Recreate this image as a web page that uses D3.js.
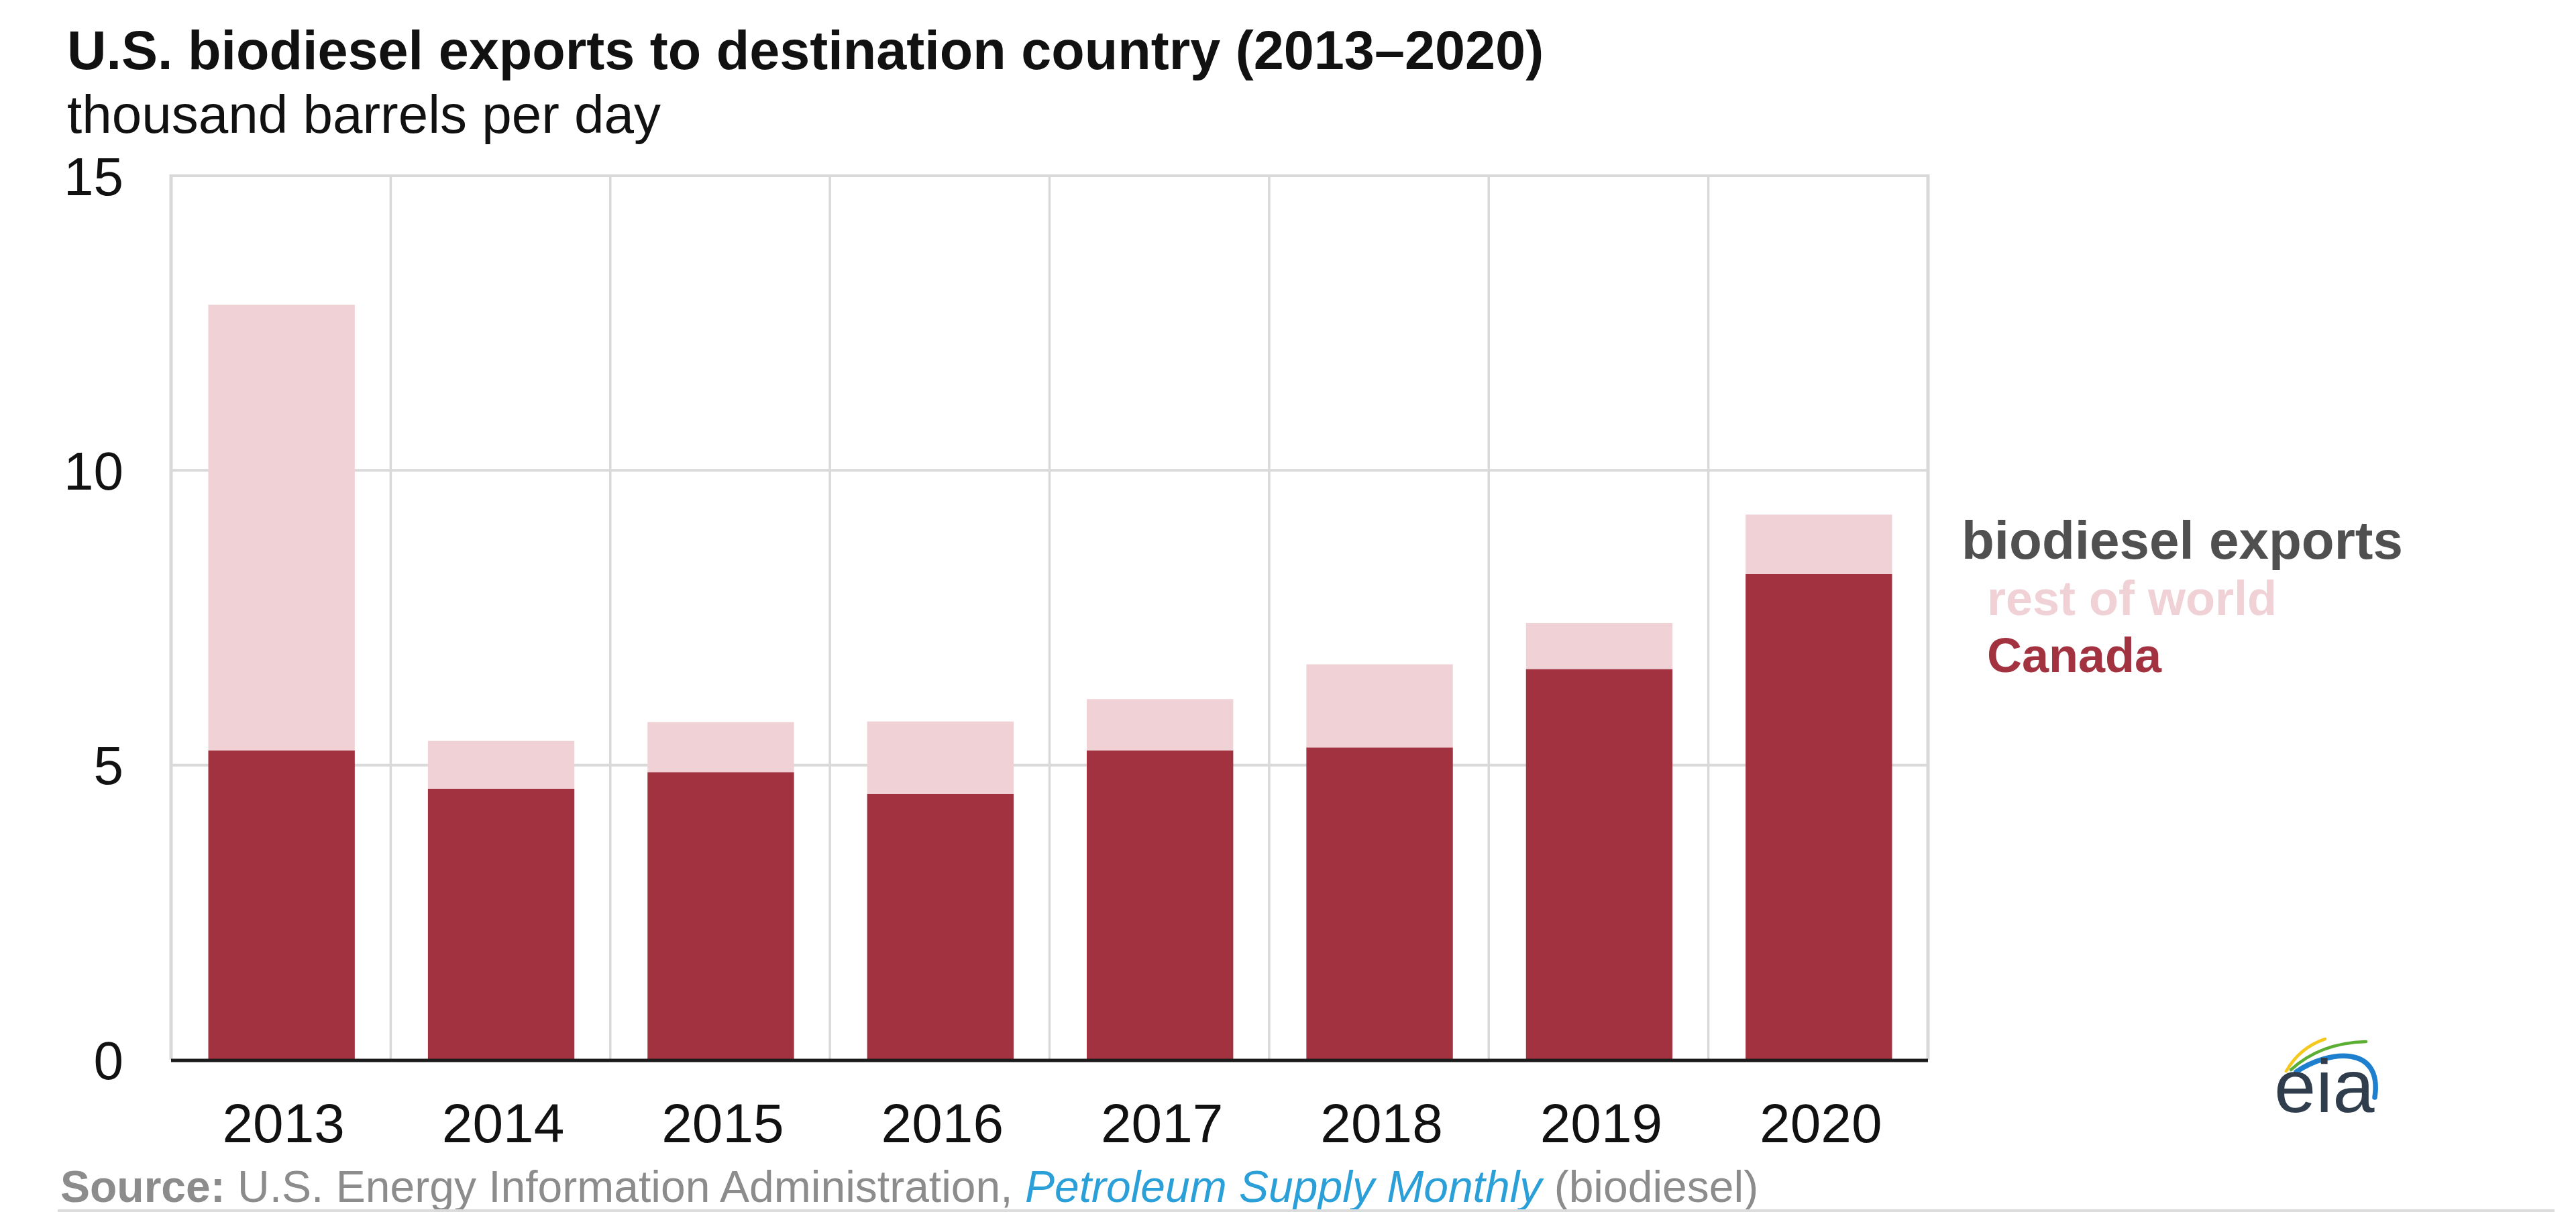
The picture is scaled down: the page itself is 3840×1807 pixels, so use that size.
<!DOCTYPE html>
<html>
<head>
<meta charset="utf-8">
<script src="https://cdn.jsdelivr.net/npm/d3@7"></script>
<style>
  html, body { margin: 0; padding: 0; background: #ffffff; }
  svg { display: block; }
  text { font-family: "Liberation Sans", Arial, sans-serif; }
</style>
</head>
<body>
<svg id="chart" width="3840" height="1807"></svg>
<script>
// ---- Data (thousand barrels per day) ----
const years = ["2013", "2014", "2015", "2016", "2017", "2018", "2019", "2020"];
const canada = [5.25, 4.60, 4.88, 4.51, 5.25, 5.30, 6.63, 8.24];
const restOfWorld = [7.56, 0.81, 0.85, 1.23, 0.87, 1.41, 0.78, 1.01];
const yTicks = [0, 5, 10, 15];
const seriesKeys = ["canada", "restOfWorld"];
const seriesLabels = ["Canada", "rest of world"];
const seriesColors = ["#a33241", "#f0d1d6"];

const title = "U.S. biodiesel exports to destination country (2013\u20132020)";
const subtitle = "thousand barrels per day";
const legendTitle = "biodiesel exports";

// ---- Layout ----
const W = 3840, H = 1807;
const plot = { left: 255, right: 2874, top: 262, bottom: 1580 };

const svg = d3.select("#chart");

const rows = years.map((y, i) => ({ year: y, canada: canada[i], restOfWorld: restOfWorld[i] }));

const x = d3.scaleBand().domain(years).range([plot.left, plot.right]).padding(0);
const y = d3.scaleLinear().domain([0, 15]).range([plot.bottom, plot.top]);
const color = d3.scaleOrdinal().domain(seriesKeys).range(seriesColors);

// Title & subtitle
svg.append("text").attr("x", 100).attr("y", 103)
  .attr("font-size", 81).attr("font-weight", "bold").attr("fill", "#111")
  .text(title);
svg.append("text").attr("x", 100).attr("y", 198)
  .attr("font-size", 80).attr("fill", "#111")
  .text(subtitle);

// Horizontal gridlines
const grid = svg.append("g");
grid.selectAll("line.h").data(yTicks.filter(d => d > 0)).join("line")
  .attr("x1", plot.left).attr("x2", plot.right)
  .attr("y1", d => y(d)).attr("y2", d => y(d))
  .attr("stroke", "#d9d9d9").attr("stroke-width", 4);

// Vertical gridlines at band boundaries
const bounds = years.map(d => x(d)).concat([x(years[years.length - 1]) + x.bandwidth()]);
grid.selectAll("line.v").data(bounds).join("line")
  .attr("x1", d => d).attr("x2", d => d)
  .attr("y1", plot.top - 2).attr("y2", plot.bottom)
  .attr("stroke", "#d9d9d9").attr("stroke-width", d => (d === bounds[0] || d === bounds[bounds.length - 1]) ? 5 : 3.5);

// Stacked bars
const stack = d3.stack().keys(seriesKeys);
const stacked = stack(rows);
const barFrac = 0.667;
const bw = x.bandwidth() * barFrac;
const off = (x.bandwidth() - bw) / 2 + 1;

svg.append("g").selectAll("g").data(stacked).join("g")
  .attr("fill", d => color(d.key))
  .selectAll("rect").data(d => d).join("rect")
  .attr("x", d => x(d.data.year) + off)
  .attr("width", bw)
  .attr("y", d => y(d[1]))
  .attr("height", d => y(d[0]) - y(d[1]));

// Baseline
svg.append("line")
  .attr("x1", plot.left).attr("x2", plot.right)
  .attr("y1", y(0) + 1).attr("y2", y(0) + 1)
  .attr("stroke", "#1a1a1a").attr("stroke-width", 5);

// Y axis labels
const yAxis = d3.axisLeft(y).tickValues(yTicks).tickSize(0).tickPadding(0).tickFormat(d3.format("d"));
const gy = svg.append("g").attr("transform", `translate(184,0)`).call(yAxis);
gy.select(".domain").remove();
gy.selectAll("text").attr("font-size", 80).attr("fill", "#111")
  .attr("font-family", "'Liberation Sans', Arial, sans-serif").attr("dy", "0.35em");

// X axis labels
const xAxis = d3.axisBottom(x).tickSize(0).tickPadding(0);
const gx = svg.append("g").attr("transform", `translate(4,0)`).call(xAxis);
gx.select(".domain").remove();
gx.selectAll("text").attr("font-size", 82).attr("fill", "#111")
  .attr("font-family", "'Liberation Sans', Arial, sans-serif")
  .attr("y", 1703).attr("dy", 0);

// Legend
const lg = svg.append("g");
lg.append("text").attr("x", 2924).attr("y", 833)
  .attr("font-size", 80).attr("font-weight", "bold").attr("fill", "#505050")
  .text(legendTitle);
const legendOrder = [1, 0]; // rest of world first, then Canada
lg.selectAll("text.item").data(legendOrder).join("text")
  .attr("class", "item")
  .attr("x", 2962)
  .attr("y", (d, i) => 917 + i * 85)
  .attr("font-size", 72).attr("font-weight", "bold")
  .attr("fill", d => seriesColors[d])
  .text(d => seriesLabels[d]);

// Source
const src = svg.append("text").attr("x", 90).attr("y", 1792).attr("font-size", 66).attr("fill", "#8c8c8c");
src.append("tspan").attr("font-weight", "bold").text("Source:");
src.append("tspan").text(" U.S. Energy Information Administration, ");
src.append("tspan").attr("font-style", "italic").attr("fill", "#2a9fd8").text("Petroleum Supply Monthly");
src.append("tspan").text(" (biodiesel)");

// Bottom rule
svg.append("line").attr("x1", 86).attr("x2", 3808).attr("y1", 1805).attr("y2", 1805)
  .attr("stroke", "#dcdcdc").attr("stroke-width", 4);

// EIA logo
const logo = svg.append("g");
logo.append("path").attr("d", "M3408,1597 Q3428,1562 3466,1549")
  .attr("fill", "none").attr("stroke", "#f5c81c").attr("stroke-width", 4.5).attr("stroke-linecap", "round");
logo.append("path").attr("d", "M3415,1595 Q3458,1555 3527,1553")
  .attr("fill", "none").attr("stroke", "#5aae32").attr("stroke-width", 4.5).attr("stroke-linecap", "round");
logo.append("path").attr("d", "M3423,1598 C3470,1566 3552,1556 3540,1636")
  .attr("fill", "none").attr("stroke", "#1f7fcf").attr("stroke-width", 7.5).attr("stroke-linecap", "round");
logo.append("text").attr("x", 3390).attr("y", 1658)
  .attr("font-family", "'Liberation Serif', 'DejaVu Serif', serif")
  .attr("font-size", 112).attr("fill", "#2f3d4c").text("eia");
</script>
</body>
</html>
